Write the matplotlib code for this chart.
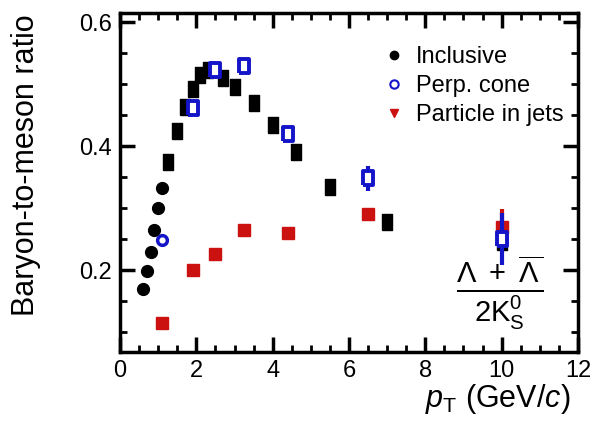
import numpy as np
import matplotlib.pyplot as plt
from matplotlib.ticker import MultipleLocator

plt.rcParams['font.family'] = ['Liberation Sans', 'DejaVu Sans']
plt.rcParams['mathtext.fontset'] = 'custom'
plt.rcParams['mathtext.rm'] = 'Liberation Sans'
plt.rcParams['mathtext.it'] = 'Liberation Sans:italic'

# Inclusive: low pT drawn as circles, rest as boxes
incl_pt_c = [0.6, 0.7, 0.8, 0.9, 1.0, 1.1]
incl_r_c = [0.170, 0.198, 0.230, 0.265, 0.300, 0.333]
incl_pt_s = [1.25, 1.5, 1.7, 1.9, 2.1, 2.3, 2.7, 3.0, 3.5, 4.0, 4.6, 5.5, 7.0, 10.0]
incl_r_s = [0.374, 0.424, 0.463, 0.493, 0.515, 0.523, 0.510, 0.495, 0.469, 0.434, 0.391, 0.335, 0.277, 0.245]

# Perpendicular cone
perp_pt = [1.1, 1.9, 2.5, 3.25, 4.4, 6.5, 10.0]
perp_r = [0.248, 0.461, 0.523, 0.529, 0.420, 0.348, 0.250]
perp_err = [0.0, 0.0, 0.0, 0.0, 0.0, 0.020, 0.042]

# Particles in jets
jet_pt = [1.1, 1.9, 2.5, 3.25, 4.4, 6.5, 10.0]
jet_r = [0.114, 0.201, 0.226, 0.265, 0.260, 0.290, 0.270]
jet_err = [0.0, 0.0, 0.0, 0.0, 0.0, 0.0, 0.028]

box = [(-0.7, -1), (0.7, -1), (0.7, 1), (-0.7, 1), (-0.7, -1)]

fig = plt.figure(figsize=(5.95, 4.26), dpi=100)
ax = fig.add_axes([0.2017, 0.1737, 0.7697, 0.7958])

ax.errorbar(jet_pt, jet_r, yerr=jet_err, fmt='none', ecolor='#cc1111', elinewidth=3, zorder=2)
ax.plot(jet_pt, jet_r, ls='none', marker='s', ms=9, color='#cc1111', mec='#cc1111', zorder=3)

ax.plot(incl_pt_c, incl_r_c, ls='none', marker='o', ms=8.5, color='black', zorder=4)
ax.plot(incl_pt_s, incl_r_s, ls='none', marker=box, ms=11, color='black', zorder=4)

ax.errorbar(perp_pt, perp_r, yerr=perp_err, fmt='none', ecolor='#1414c8', elinewidth=3, zorder=5)
ax.plot(perp_pt[:1], perp_r[:1], ls='none', marker='o', ms=7, mfc='white', mec='#1414c8', mew=2.5, zorder=6)
ax.plot(perp_pt[1:], perp_r[1:], ls='none', marker=box, ms=10, mfc='white', mec='#1414c8', mew=2.8, zorder=6)

# legend entries
ax.plot([], [], ls='none', marker='o', ms=6, color='black', label='Inclusive')
ax.plot([], [], ls='none', marker='o', ms=6, mfc='white', mec='#1414c8', mew=1.5, label='Perp. cone')
ax.plot([], [], ls='none', marker='v', ms=6, color='#cc1111', label='Particle in jets')
handles, labels = ax.get_legend_handles_labels()
ax.legend(handles[-3:], labels[-3:], loc='upper left', bbox_to_anchor=(0.52, 0.965),
          frameon=False, fontsize=17, handletextpad=0.35, labelspacing=0.3, handlelength=1.2)

ax.text(9.95, 0.163, r'$\frac{\Lambda\ +\ \overline{\Lambda\,}}{2\mathrm{K}^0_\mathrm{S}}$',
        ha='center', va='center', fontsize=30)

ax.set_xlim(0, 12)
ax.set_ylim(0.068, 0.615)
ax.xaxis.set_major_locator(MultipleLocator(2))
ax.xaxis.set_minor_locator(MultipleLocator(0.5))
ax.yaxis.set_major_locator(MultipleLocator(0.2))
ax.yaxis.set_minor_locator(MultipleLocator(0.05))
ax.set_yticks([0.2, 0.4, 0.6])
ax.set_yticklabels(['0.2', '0.4', '0.6'])
ax.tick_params(which='both', direction='in', top=True, right=True, labelsize=17, width=2.5)
ax.tick_params(which='major', length=11, pad=6)
ax.tick_params(which='minor', length=5, width=2)
for s in ax.spines.values():
    s.set_linewidth(2.5)

ax.set_ylabel('Baryon-to-meson ratio', fontsize=22)
ax.yaxis.set_label_coords(-0.172, 0.55)
ax.set_xlabel(r'$p_\mathrm{T}$ (GeV/$c$)', fontsize=22, ha='right', va='center')
ax.xaxis.set_label_coords(0.983, -0.14)

fig.savefig('out.png', dpi=100)
